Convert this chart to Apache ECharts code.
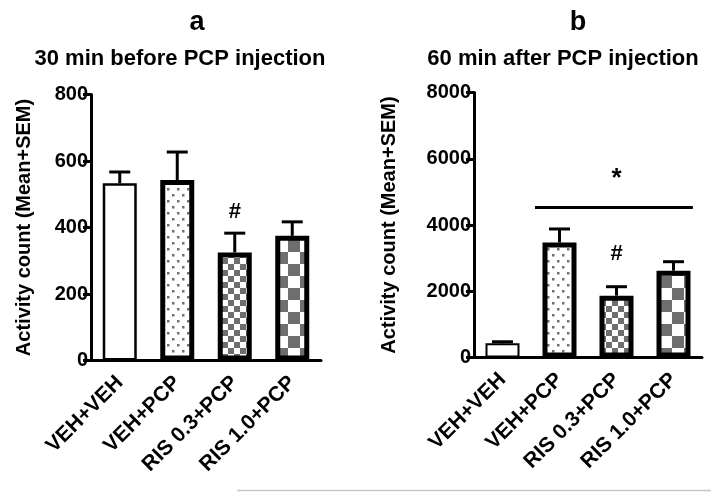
<!DOCTYPE html>
<html>
<head>
<meta charset="utf-8">
<script src="https://cdn.jsdelivr.net/npm/echarts@6/dist/echarts.min.js"></script>
<style>
html,body{margin:0;padding:0;background:#fff;}
#main{width:711px;height:492px;}
</style>
</head>
<body>
<div id="main"></div>
<script>
// ---- data ----
var categories = ['VEH+VEH', 'VEH+PCP', 'RIS 0.3+PCP', 'RIS 1.0+PCP'];
var meanA = [533, 543, 325, 375];
var errTopA = [567, 627, 383, 417];
var meanB = [430, 3472, 1866, 2620];
var errTopB = [475, 3880, 2137, 2892];
var yTicksA = [0, 200, 400, 600, 800];
var yTicksB = [0, 2000, 4000, 6000, 8000];
var annotA = [{cat: 2, y: 448, text: '#'}];
var annotB = [{cat: 2, y: 3125, text: '#'}, {cat: 2, y: 5400, text: '*'}];
var sigLineB = [{from: 1, to: 3, y: 4530}];

// ---- patterns ----
function makeCanvas(w, h, draw) {
  var c = document.createElement('canvas');
  c.width = w; c.height = h;
  var ctx = c.getContext('2d');
  ctx.fillStyle = '#fff';
  ctx.fillRect(0, 0, w, h);
  draw(ctx);
  return c;
}
var GREY = '#6e6e6e';
var dotPattern = makeCanvas(10, 12, function (ctx) {
  ctx.fillStyle = '#707070';
  ctx.fillRect(2, 2, 2.5, 2.5);
  ctx.fillRect(7, 8, 2.5, 2.5);
});
var smallChecker = makeCanvas(12, 12, function (ctx) {
  ctx.fillStyle = GREY;
  ctx.fillRect(0, 0, 6, 6);
  ctx.fillRect(6, 6, 6, 6);
});
var bigChecker = makeCanvas(24, 24, function (ctx) {
  ctx.fillStyle = GREY;
  ctx.fillRect(0, 0, 12, 12);
  ctx.fillRect(12, 12, 12, 12);
});
var barStyles = [
  {color: '#fff', borderColor: '#000', borderWidth: 2.5},
  {color: {image: dotPattern, repeat: 'repeat'}, borderColor: '#000', borderWidth: 5},
  {color: {image: smallChecker, repeat: 'repeat'}, borderColor: '#000', borderWidth: 5},
  {color: {image: bigChecker, repeat: 'repeat'}, borderColor: '#000', borderWidth: 5}
];

var FONT = '"Liberation Sans", Arial, sans-serif';

function barData(vals, firstBorder) {
  return vals.map(function (v, i) {
    var st = Object.assign({}, barStyles[i]);
    if (i === 0) st.borderWidth = firstBorder;
    return {value: v, itemStyle: st};
  });
}
function errData(means, tops) {
  return means.map(function (m, i) { return [i, m, tops[i]]; });
}
function errRender(params, api) {
  var x = api.value(0), m = api.value(1), e = api.value(2);
  var p0 = api.coord([x, m]), p1 = api.coord([x, e]);
  var hw = 10.5;
  return {type: 'group', children: [
    {type: 'line', shape: {x1: p0[0], y1: p0[1], x2: p1[0], y2: p1[1]}, style: {stroke: '#000', lineWidth: 3}},
    {type: 'line', shape: {x1: p1[0] - hw, y1: p1[1], x2: p1[0] + hw, y2: p1[1]}, style: {stroke: '#000', lineWidth: 3}}
  ]};
}
function annotSeries(list, axisIdx) {
  return {
    type: 'custom', xAxisIndex: axisIdx, yAxisIndex: axisIdx, z: 10,
    data: list.map(function (a) { return [a.cat, a.y]; }),
    renderItem: function (params, api) {
      var p = api.coord([api.value(0), api.value(1)]);
      var t = list[params.dataIndex].text;
      return {type: 'text', x: p[0], y: p[1], style: {
        text: t, fill: '#000',
        font: 'bold ' + (t === '*' ? 26 : 22) + 'px ' + FONT, align: 'center', verticalAlign: 'middle'}};
    }
  };
}
function sigSeries(list, axisIdx) {
  return {
    type: 'custom', xAxisIndex: axisIdx, yAxisIndex: axisIdx, z: 10,
    data: list.map(function (a) { return [a.from, a.to, a.y]; }),
    renderItem: function (params, api) {
      var band = api.size([1, 0])[0];
      var a = api.coord([api.value(0), api.value(2)]);
      var b = api.coord([api.value(1), api.value(2)]);
      return {type: 'line', shape: {x1: a[0] - band * 0.43, y1: a[1], x2: b[0] + band * 0.34, y2: b[1]},
        style: {stroke: '#000', lineWidth: 3}};
    }
  };
}

function lbl(size) { return {color: '#000', fontFamily: FONT, fontWeight: 'bold', fontSize: size}; }
function xAxisCfg(gi) {
  return {
    type: 'category', gridIndex: gi, data: categories,
    axisLine: {lineStyle: {color: '#000', width: 3}},
    axisTick: {alignWithLabel: true, length: 7, lineStyle: {color: '#000', width: 3}},
    axisLabel: Object.assign({rotate: 45, margin: 19, interval: 0}, lbl(21))
  };
}
function yAxisCfg(gi, ticks, gap) {
  return {
    type: 'value', gridIndex: gi, min: ticks[0], max: ticks[ticks.length - 1],
    interval: ticks[1] - ticks[0],
    name: 'Activity count (Mean+SEM)', nameLocation: 'middle', nameGap: gap,
    nameTextStyle: lbl(20),
    axisLine: {show: true, lineStyle: {color: '#000', width: 3}},
    axisTick: {show: true, length: 8, lineStyle: {color: '#000', width: 3}},
    axisLabel: Object.assign({margin: 3, formatter: function (v) { return String(v); }}, lbl(20)),
    splitLine: {show: false}
  };
}

var chart = echarts.init(document.getElementById('main'));
var tStyle = function (s) { return {fontFamily: FONT, fontWeight: 'bold', fontSize: s, color: '#000'}; };
chart.setOption({
  animation: false,
  backgroundColor: '#fff',
  title: [
    {text: 'a', left: 192, top: 4, textAlign: 'center', textStyle: tStyle(27)},
    {text: '30 min before PCP injection', left: 175, top: 43, textAlign: 'center', textStyle: tStyle(22)},
    {text: 'b', left: 573, top: 4, textAlign: 'center', textStyle: tStyle(27)},
    {text: '60 min after PCP injection', left: 558, top: 43, textAlign: 'center', textStyle: tStyle(22)}
  ],
  grid: [
    {left: 91, right: 390, top: 94.5, bottom: 131.5},
    {left: 474, right: 9, top: 92.5, bottom: 134.5}
  ],
  xAxis: [xAxisCfg(0), xAxisCfg(1)],
  yAxis: [yAxisCfg(0, yTicksA, 57), yAxisCfg(1, yTicksB, 75)],
  graphic: [
    {type: 'line', shape: {x1: 237, y1: 490.5, x2: 711, y2: 490.5}, style: {stroke: '#c8c8c8', lineWidth: 1.5}}
  ],
  series: [
    {type: 'bar', xAxisIndex: 0, yAxisIndex: 0, barWidth: 34, data: barData(meanA, 2.5), z: 2},
    {type: 'custom', xAxisIndex: 0, yAxisIndex: 0, data: errData(meanA, errTopA), renderItem: errRender, z: 1},
    annotSeries(annotA, 0),
    {type: 'bar', xAxisIndex: 1, yAxisIndex: 1, barWidth: 34, data: barData(meanB, 2), z: 2},
    {type: 'custom', xAxisIndex: 1, yAxisIndex: 1, data: errData(meanB, errTopB), renderItem: errRender, z: 1},
    annotSeries(annotB, 1),
    sigSeries(sigLineB, 1)
  ]
});
</script>
</body>
</html>
